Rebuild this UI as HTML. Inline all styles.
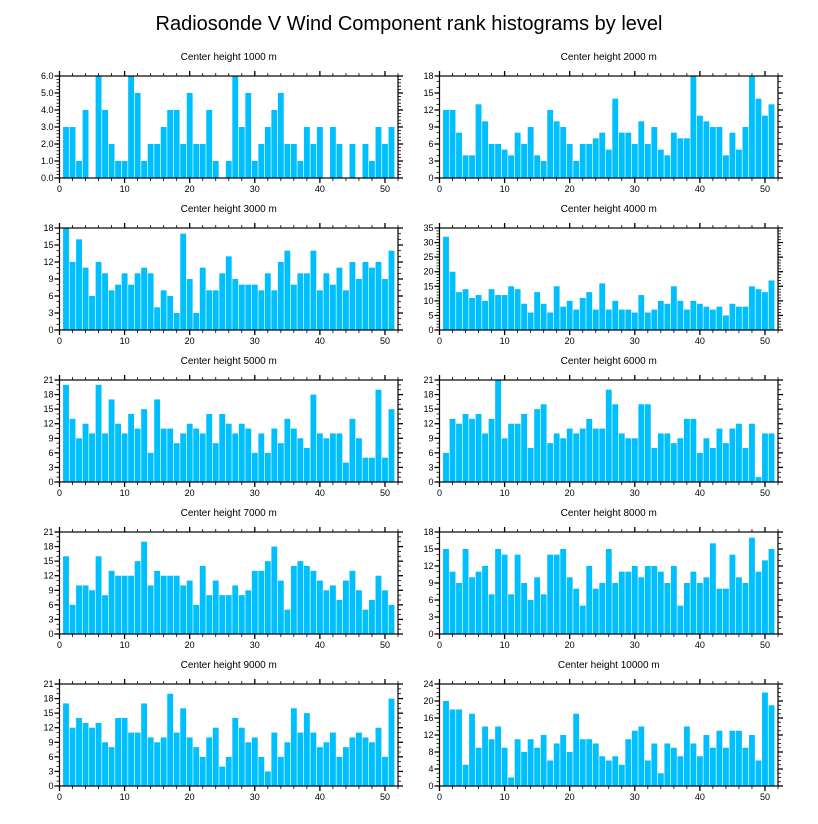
<!DOCTYPE html>
<html><head><meta charset="utf-8"><style>
body{margin:0;background:#fff;}
svg{display:block;font-family:"Liberation Sans",sans-serif;}
</style></head><body>
<svg id="chart" width="818" height="824" viewBox="0 0 818 824">
<text x="409" y="30" text-anchor="middle" font-size="20">Radiosonde V Wind Component rank histograms by level</text>
</svg>
<script>
const levels = ["1000","2000","3000","4000","5000","6000","7000","8000","9000","10000"];
const yMaxes = [6,18,18,35,21,21,21,18,21,24];
const ySteps = [1,3,3,5,3,3,3,3,3,4];
const v1000 = [3,3,1,4,0,6,4,2,1,1,6,5,1,2,2,3,4,4,2,5,2,2,4,1,0,1,6,3,5,1,2,3,4,5,2,2,1,3,2,3,0,3,2,0,2,0,2,1,3,2,3];
const v2000 = [12,12,8,4,4,13,10,6,6,5,4,8,6,9,4,3,12,10,9,6,3,6,6,7,8,5,14,8,8,6,10,6,9,5,4,8,7,7,18,11,10,9,9,4,8,5,9,18,14,11,13];
const v3000 = [18,12,16,11,6,12,10,7,8,10,8,10,11,10,4,7,6,3,17,9,3,11,7,7,10,13,9,8,8,8,7,10,7,12,14,8,10,10,14,7,10,8,11,7,12,9,12,11,12,9,14];
const v4000 = [32,20,13,14,11,12,10,14,12,12,15,14,9,6,13,9,6,15,8,10,7,11,13,7,16,7,10,7,7,6,12,6,7,10,9,15,10,7,10,9,8,7,8,5,9,8,8,15,14,13,17];
const v5000 = [20,13,9,12,10,20,10,17,12,10,14,11,15,6,17,11,11,8,10,12,11,10,14,8,14,12,10,12,11,6,10,6,11,8,13,11,9,7,18,10,9,10,10,4,13,9,5,5,19,5,15];
const v6000 = [6,13,12,14,13,14,10,13,21,9,12,12,14,7,15,16,8,10,9,11,10,11,13,11,11,19,16,10,9,9,16,16,7,10,10,8,9,13,13,6,9,7,11,8,11,12,7,12,1,10,10];
const v7000 = [16,6,10,10,9,16,8,13,12,12,12,15,19,10,13,12,12,12,10,11,6,14,8,11,8,8,10,8,9,13,13,15,18,11,5,14,15,14,13,11,9,10,7,11,13,9,5,7,12,9,6];
const v8000 = [15,11,9,15,10,11,12,7,15,14,7,14,9,6,10,7,14,14,15,10,8,5,12,8,9,15,9,11,11,12,10,12,12,11,9,12,5,9,11,9,10,16,8,8,14,10,9,17,11,13,15];
const v9000 = [17,12,14,13,12,13,9,8,14,14,11,11,17,10,9,10,19,11,16,10,8,6,10,12,4,6,14,12,9,10,6,3,11,6,9,16,11,15,11,8,9,11,6,8,10,11,10,9,12,6,18];
const v10000 = [20,18,18,5,17,9,14,11,14,9,2,11,8,11,9,12,6,10,12,8,17,11,11,10,7,6,7,5,11,13,14,6,10,3,10,9,7,14,10,7,12,9,13,9,13,13,9,12,6,22,19];
const series = [v1000,v2000,v3000,v4000,v5000,v6000,v7000,v8000,v9000,v10000];
const xTicks = [0,10,20,30,40,50];

const NS="http://www.w3.org/2000/svg";
const svg=document.getElementById('chart');
function mk(tag,attrs,parent){const e=document.createElementNS(NS,tag);for(const k in attrs)e.setAttribute(k,attrs[k]);(parent||svg).appendChild(e);return e;}

const colX=[59.5,439.5], W=338.5, H=102, rowTop=[76,228,380,532,684];
series.forEach((vals,p)=>{
  const L=colX[p%2], T=rowTop[Math.floor(p/2)], B=T+H, R=L+W;
  const ymax=yMaxes[p], step=ySteps[p];
  const xs=v=>L+v/52*W, ys=v=>B-v/ymax*H;
  const g=mk('g',{});
  
  
  const t=mk('text',{x:(L+R)/2,y:T-16,'text-anchor':'middle','font-size':10},g);
  t.textContent='Center height '+levels[p]+' m';
  
  
  vals.forEach((v,i)=>{
    const r=mk('rect',{x:xs(i+1-0.45),y:ys(v),width:xs(0.9)-L,height:B-ys(v),fill:'#00BFFF'},g);
    
    
  });
  const frame=mk('rect',{x:L,y:T,width:W,height:H,fill:'none',stroke:'#000','stroke-width':1.2},g);
  
  
  // x ticks
  for(let v=0;v<=52;v+=2){
    const maj=v%10===0, len=maj?5:3, x=xs(v);
    mk('line',{x1:x,x2:x,y1:B,y2:B+len,stroke:'#000','stroke-width':maj?1.3:0.8},g);
    mk('line',{x1:x,x2:x,y1:T,y2:T-len,stroke:'#000','stroke-width':maj?1.3:0.8},g);
  }
  xTicks.forEach(v=>{
    const tl=mk('text',{x:xs(v),y:B+14,'text-anchor':'middle','font-size':9},g);
    tl.textContent=v;
    
    
  });
  // y ticks
  const nmin = step===1?5:(step===3?3:(step===5?5:4));
  const ms=step/nmin;
  for(let k=0;k*ms<=ymax+1e-9;k++){
    const v=k*ms, maj=k%nmin===0, len=maj?5:3, y=ys(v);
    mk('line',{x1:L,x2:L-len,y1:y,y2:y,stroke:'#000','stroke-width':maj?1.3:0.8},g);
    mk('line',{x1:R,x2:R+len,y1:y,y2:y,stroke:'#000','stroke-width':maj?1.3:0.8},g);
    if(maj){
      const yl=mk('text',{x:L-6,y:y+3,'text-anchor':'end','font-size':9},g);
      yl.textContent = step===1 ? v.toFixed(1) : Math.round(v);
      
      
    }
  }
});
</script>
</body></html>
